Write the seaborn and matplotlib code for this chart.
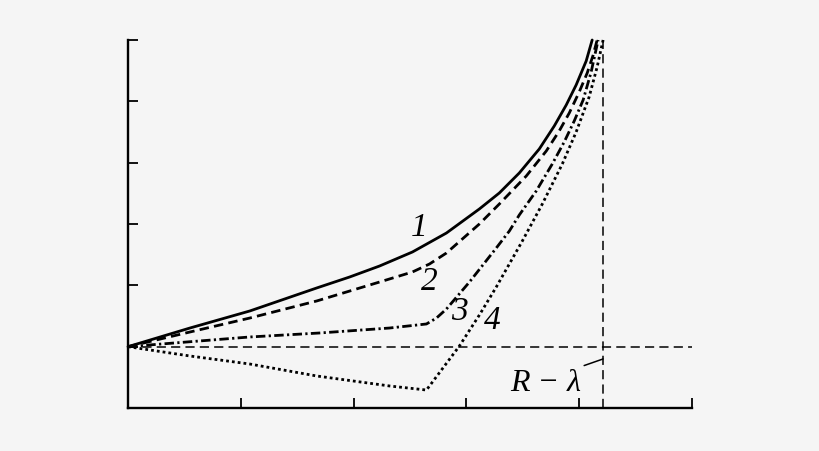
import matplotlib
matplotlib.use("Agg")
import matplotlib.pyplot as plt
import pandas as pd
import seaborn as sns

# curve data (x and y in tick units)
x1 = [0.0, 0.549, 1.080, 1.673, 1.965, 2.230, 2.522, 2.823, 3.115, 3.292,
      3.469, 3.646, 3.779, 3.885, 3.973, 4.062, 4.115]
y1 = [1.0, 1.304, 1.582, 1.957, 2.136, 2.315, 2.544, 2.853, 3.245, 3.506,
      3.832, 4.223, 4.598, 4.940, 5.267, 5.658, 6.0]

x2 = [0.0, 0.549, 1.080, 1.673, 2.230, 2.522, 2.673, 2.823, 3.115, 3.292,
      3.531, 3.708, 3.823, 3.912, 4.000, 4.071, 4.124, 4.159]
y2 = [1.0, 1.239, 1.467, 1.745, 2.054, 2.218, 2.348, 2.527, 3.000, 3.326,
      3.783, 4.190, 4.517, 4.810, 5.152, 5.462, 5.756, 6.0]

x3 = [0.0, 1.080, 1.699, 2.319, 2.646, 2.735, 2.823, 3.027, 3.265, 3.381,
      3.469, 3.619, 3.761, 3.867, 3.956, 4.035, 4.106, 4.168]
y3 = [1.0, 1.158, 1.223, 1.304, 1.370, 1.467, 1.614, 2.054, 2.609, 2.886,
      3.147, 3.538, 3.978, 4.337, 4.680, 5.022, 5.479, 6.0]

x4 = [0.0, 0.549, 1.080, 1.673, 2.319, 2.646, 2.938, 3.115, 3.265, 3.496,
      3.673, 3.850, 3.973, 4.088, 4.159, 4.212]
y4 = [1.0, 0.848, 0.717, 0.522, 0.359, 0.293, 1.011, 1.516, 1.973, 2.723,
      3.326, 3.978, 4.500, 5.071, 5.560, 6.0]

curve_labels = ["1", "2", "3", "4"]
label_x = [2.58, 2.67, 2.94, 3.23]
label_y = [2.95, 2.07, 1.58, 1.44]

x_ticks = [1, 2, 3, 4, 5]
y_ticks = [1, 2, 3, 4, 5, 6]
r_lambda_x = 4.212
base_y = 1.0

sns.set_style("ticks")
bg = "#f5f5f5"
fig = plt.figure(figsize=(8.2, 4.52), dpi=100, facecolor=bg)
ax = fig.add_axes([128 / 820, 43 / 452, 564 / 820, 368 / 452])
ax.set_facecolor(bg)

styles = [
    "-",
    (0, (3.4, 1.9)),
    (0, (3.4, 1.2, 0.8, 1.2)),
    (0, (1.0, 1.1)),
]
for xs, ys, ls in zip([x1, x2, x3, x4], [y1, y2, y3, y4], styles):
    df = pd.DataFrame({"x": xs, "y": ys})
    sns.lineplot(data=df, x="x", y="y", sort=False, estimator=None, ax=ax,
                 color="black", linewidth=2.0, linestyle=ls, clip_on=False)

# reference lines
ax.axhline(base_y, color="black", linewidth=1.1, linestyle=(0, (6.0, 3.4)), clip_on=False)
ax.axvline(r_lambda_x, color="black", linewidth=1.1, linestyle=(0, (6.0, 3.4)), clip_on=False)

serif = ["Liberation Serif", "DejaVu Serif"]
for lab, lx, ly in zip(curve_labels, label_x, label_y):
    ax.text(lx, ly, lab, fontsize=24, fontstyle="italic", family=serif,
            color="black", ha="center", va="center")

ax.annotate("R \u2212 \u03bb", xy=(r_lambda_x, 0.80), xytext=(3.70, 0.42),
            fontsize=23, fontstyle="italic", family=serif, color="black",
            ha="center", va="center",
            arrowprops=dict(arrowstyle="-", color="black", linewidth=1.1,
                            shrinkA=0, shrinkB=0, relpos=(0.90, 0.95)))

ax.set_xlim(0, 5)
ax.set_ylim(0, 6)
ax.set_xticks(x_ticks)
ax.set_yticks(y_ticks)
ax.set_xticklabels([])
ax.set_yticklabels([])
ax.set_xlabel("")
ax.set_ylabel("")
ax.tick_params(direction="in", length=7.5, width=1.3, color="black")
for side in ["top", "right"]:
    ax.spines[side].set_visible(False)
for side in ["left", "bottom"]:
    ax.spines[side].set_linewidth(1.7)
    ax.spines[side].set_color("black")

fig.savefig("out.png", dpi=100, facecolor=bg)
